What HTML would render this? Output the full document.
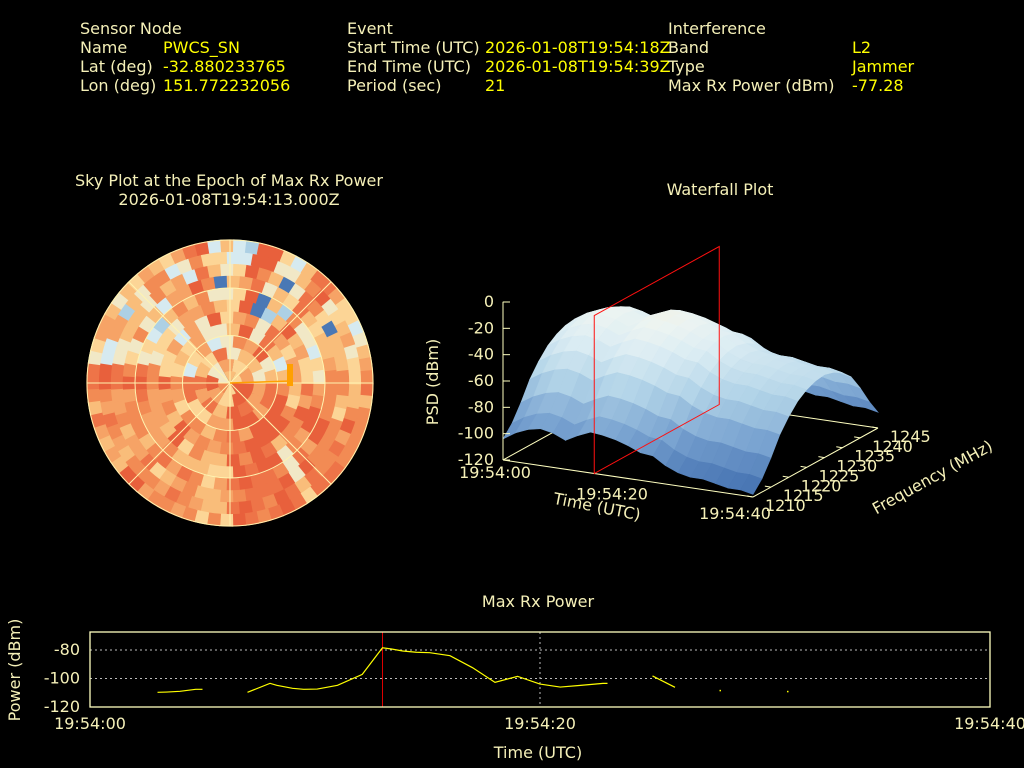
<!DOCTYPE html>
<html><head><meta charset="utf-8">
<style>
body{margin:0;background:#000;width:1024px;height:768px;overflow:hidden;font-family:"DejaVu Sans","Liberation Sans",sans-serif;}
svg{position:absolute;left:0;top:0}
text{font-family:"DejaVu Sans","Liberation Sans",sans-serif;font-size:16px}
.lb{fill:#f5f0b8}.vl{fill:#ffff00}
</style></head><body>
<svg id="svg" width="1024" height="768">
<g>
<text class="lb" x="80" y="34">Sensor Node</text>
<text class="lb" x="80" y="53">Name</text><text class="vl" x="163" y="53">PWCS_SN</text>
<text class="lb" x="80" y="72">Lat (deg)</text><text class="vl" x="163" y="72">-32.880233765</text>
<text class="lb" x="80" y="91">Lon (deg)</text><text class="vl" x="163" y="91">151.772232056</text>
<text class="lb" x="347" y="34">Event</text>
<text class="lb" x="347" y="53">Start Time (UTC)</text><text class="vl" x="485" y="53">2026-01-08T19:54:18Z</text>
<text class="lb" x="347" y="72">End Time (UTC)</text><text class="vl" x="485" y="72">2026-01-08T19:54:39Z</text>
<text class="lb" x="347" y="91">Period (sec)</text><text class="vl" x="485" y="91">21</text>
<text class="lb" x="668" y="34">Interference</text>
<text class="lb" x="668" y="53">Band</text><text class="vl" x="852" y="53">L2</text>
<text class="lb" x="668" y="72">Type</text><text class="vl" x="852" y="72">Jammer</text>
<text class="lb" x="668" y="91">Max Rx Power (dBm)</text><text class="vl" x="852" y="91">-77.28</text>
</g>
<text class="lb" x="229" y="186" text-anchor="middle">Sky Plot at the Epoch of Max Rx Power</text>
<text class="lb" x="229" y="205" text-anchor="middle">2026-01-08T19:54:13.000Z</text>
<text class="lb" x="720" y="195" text-anchor="middle">Waterfall Plot</text>
<g id="sky"></g>
<g id="wf"></g>
<g id="ts"></g>
</svg>
<script>
// ---- Max Rx Power data ----
const tsTimes = [3.0,3.4,4.0,4.7,5.0,null,7.0,8.0,8.3,9.0,9.5,10.1,11.0,12.1,13.0,13.4,13.9,14.5,15.1,16.0,17.0,18.0,19.0,20.0,20.9,21.8,22.8,23.0,null,25.0,26.0,null,28.0,null,31.0];
const tsPower = [-109.7,-109.5,-109.0,-107.6,-107.6,null,-109.7,-103.4,-104.8,-106.9,-107.6,-107.4,-104.8,-97.1,-78.4,-79.3,-80.7,-81.6,-81.9,-84.0,-92.4,-102.7,-98.5,-103.9,-106.0,-104.8,-103.4,-103.4,null,-98.2,-106.2,null,-108.3,null,-109.0];
const tsYTicks = [-80,-100,-120];
const tsXTicks = ["19:54:00","19:54:20","19:54:40"];
const tsXTickVals = [0,20,40];
const epochSec = 13;
// ---- Waterfall data ----
const wfFreqs = [1210,1212.5,1215,1217.5,1220,1222.5,1225,1227.5,1230,1232.5,1235,1237.5,1240,1242.5,1245];
const wfFreqProfile = [-92,-84,-72,-58,-48,-40,-35,-32,-31,-33,-37,-44,-56,-70,-82];
const wfTimes = [0,2,4,6,8,10,12,14,16,18,20,22,24,26,28,30,32,34,36,38,40];
const wfTimeOffset = [-12,-6,-2,0,-2,-6,-1,3,2,0,-3,-7,-8,-14,-18,-20,-20,-22,-24,-24,-26];
const wfZTicks = [0,-20,-40,-60,-80,-100,-120];
const wfFreqTicks = [1210,1215,1220,1225,1230,1235,1240,1245];
const wfTimeTicks = ["19:54:00","19:54:20","19:54:40"];
const wfTimeTickVals = [0,20,40];

const NS="http://www.w3.org/2000/svg";
function mk(parent,tag,attrs){const e=document.createElementNS(NS,tag);for(const k in attrs)e.setAttribute(k,attrs[k]);parent.appendChild(e);return e;}

// ===== Time series =====
(function(){
const g=document.getElementById('ts');
const x0=90,x1=990,y0=632,y1=707;
const xs=t=>x0+(t/40)*(x1-x0);
const ys=v=>650+(-80-v)*(57/40);
const t=mk(g,'text',{class:'lb',x:538,y:607,'text-anchor':'middle'});t.textContent='Max Rx Power';


tsYTicks.forEach(v=>{
 const y=ys(v);
 if(v>-120){const l=mk(g,'line',{x1:x0,x2:x1,y1:y,y2:y,stroke:'#bbb','stroke-dasharray':'2,3'});
 
 }
 const tx=mk(g,'text',{class:'lb',x:80,y:y+5,'text-anchor':'end'});tx.textContent=v;
 
 
});
tsXTickVals.forEach((v,i)=>{
 const x=xs(v);
 if(v===20){const l=mk(g,'line',{x1:x,x2:x,y1:y0,y2:y1,stroke:'#bbb','stroke-dasharray':'2,3'});
 
 }
 const tx=mk(g,'text',{class:'lb',x:x,y:729,'text-anchor':'middle'});tx.textContent=tsXTicks[i];
 
 
});
const ex=xs(epochSec);
const el=mk(g,'line',{x1:ex,x2:ex,y1:y0,y2:y1,stroke:'#d00','stroke-width':1});


let seg=[];const segs=[];
tsTimes.forEach((tt,i)=>{if(tt===null){if(seg.length)segs.push(seg);seg=[];}else seg.push([xs(tt),ys(tsPower[i])]);});
if(seg.length)segs.push(seg);
segs.forEach(s=>{
 if(s.length===1){const d=mk(g,'rect',{x:s[0][0]-0.5,y:s[0][1]-0.5,width:1.5,height:1.5,fill:'#ffff00'});
 
 }
 else{const p=mk(g,'polyline',{points:s.map(p=>p.join(',')).join(' '),fill:'none',stroke:'#ffff00','stroke-width':1.2});
 
 }
});
const b=mk(g,'rect',{x:x0,y:y0,width:x1-x0,height:y1-y0,fill:'none',stroke:'#ffffc0','stroke-width':1.3});


const yl=mk(g,'text',{class:'lb',transform:'translate(20,670) rotate(-90)','text-anchor':'middle'});yl.textContent='Power (dBm)';


const xl=mk(g,'text',{class:'lb',x:538,y:758,'text-anchor':'middle'});xl.textContent='Time (UTC)';


})();

// ===== Sky plot =====
(function(){
const g=document.getElementById('sky');
const cx=230,cy=383,R=143;
const pal=['#e8603c','#ee7448','#f28b54','#f6a366','#f9bd7a','#fcd596','#f1e8c6','#d6eaf0','#add0e4','#4a78b5'];
function h(a,b){let x=(a*374761393+b*668265263)>>>0;x=(x^(x>>>13))*1274126177>>>0;return ((x^(x>>>16))>>>0)%1000/1000;}
const NR=12;
for(let j=0;j<NR;j++){
 const r0=j/NR*R,r1=(j+1)/NR*R+0.6;
 const NA=Math.max(6,Math.round(2*Math.PI*(r0+r1)/2/12.5));
 for(let i=0;i<NA;i++){
  const ang=(i+0.5)/NA;
  const sec=Math.floor(ang*36);
  const base=h(sec,99);
  const v=base*0.6+h(i+j*131,j)*0.4;
  let k=v<0.22?0:v<0.34?1:v<0.46?2:v<0.58?3:v<0.68?4:v<0.76?5:v<0.83?6:v<0.88?7:v<0.92?8:(h(j,i)>0.55?9:3);
  const a0=i/NA*2*Math.PI,a1=(i+1)/NA*2*Math.PI+0.01;
  const p=`M${cx+r0*Math.cos(a0)},${cy+r0*Math.sin(a0)} L${cx+r1*Math.cos(a0)},${cy+r1*Math.sin(a0)} A${r1},${r1} 0 0 1 ${cx+r1*Math.cos(a1)},${cy+r1*Math.sin(a1)} L${cx+r0*Math.cos(a1)},${cy+r0*Math.sin(a1)} A${r0},${r0} 0 0 0 ${cx+r0*Math.cos(a0)},${cy+r0*Math.sin(a0)}Z`;
  const c=mk(g,'path',{d:p,fill:pal[k]});
  
  
 }
}
[47.5,95,143].forEach(r=>{const c=mk(g,'circle',{cx,cy,r,fill:'none',stroke:'#fff3b0','stroke-width':1});
 
 });
for(let a=0;a<180;a+=45){const rad=a*Math.PI/180;
 const l=mk(g,'line',{x1:cx-R*Math.cos(rad),y1:cy-R*Math.sin(rad),x2:cx+R*Math.cos(rad),y2:cy+R*Math.sin(rad),stroke:'#fff3b0','stroke-width':1});
 
 }
const jl=mk(g,'line',{x1:cx,y1:cy,x2:290,y2:381,stroke:'#ffa000','stroke-width':1.5});


const jm=mk(g,'rect',{x:287,y:364,width:6,height:22,fill:'#ffa000'});


})();

// ===== Waterfall =====
(function(){
const g=document.getElementById('wf');
const A=[503,460],T=[250,37],F=[125,-69],zs=158/120;
const P=(t,f,z)=>[A[0]+T[0]*t/40+F[0]*(f-1210)/35, A[1]+T[1]*t/40+F[1]*(f-1210)/35-(z+120)*zs];
const ln=(p,q,c,n)=>{const l=mk(g,'line',{x1:p[0],y1:p[1],x2:q[0],y2:q[1],stroke:c,'stroke-width':1});
 
 };
ln(P(0,1245,-120),P(40,1245,-120),'#ffffc0','floor-back-edge');
ln(P(0,1210,-120),P(0,1245,-120),'#ffffc0','floor-left-edge');
const stops=[[-115,[70,115,178]],[-90,[120,162,208]],[-65,[178,212,232]],[-45,[218,236,243]],[-32,[236,244,242]],[-20,[247,238,212]]];
function col(z){if(z<=stops[0][0])return `rgb(${stops[0][1]})`;
 for(let i=1;i<stops.length;i++){if(z<=stops[i][0]){const a=stops[i-1],b=stops[i],f=(z-a[0])/(b[0]-a[0]);
 return `rgb(${a[1].map((v,k)=>Math.round(v+(b[1][k]-v)*f)).join(',')})`;}}
 return `rgb(${stops[stops.length-1][1]})`;}
const Z=(j,i)=>Math.max(-118,wfFreqProfile[i]+wfTimeOffset[j]);
for(let i=wfFreqs.length-2;i>=0;i--){
 for(let j=0;j<wfTimes.length-1;j++){
  const pts=[P(wfTimes[j],wfFreqs[i],Z(j,i)),P(wfTimes[j+1],wfFreqs[i],Z(j+1,i)),P(wfTimes[j+1],wfFreqs[i+1],Z(j+1,i+1)),P(wfTimes[j],wfFreqs[i+1],Z(j,i+1))];
  const zm=(Z(j,i)+Z(j+1,i)+Z(j+1,i+1)+Z(j,i+1))/4;
  const c=col(zm);
  const q=mk(g,'polygon',{points:pts.map(p=>p.join(',')).join(' '),fill:c,stroke:c,'stroke-width':0.6});
  
  
 }
}
ln(P(0,1210,-120),P(40,1210,-120),'#ffffc0','time-axis');
ln(P(40,1210,-120),P(40,1245,-120),'#ffffc0','frequency-axis');
const e=epochSec+1.6;
const rp=[P(e,1210,-120),P(e,1210,0),P(e,1245,0),P(e,1245,-120)];
const rpl=mk(g,'polygon',{points:rp.map(p=>p.join(',')).join(' '),fill:'none',stroke:'#ff1010','stroke-width':1});


ln([503,301.7],[503,460],'#ffffc0','z-axis');
wfZTicks.forEach(v=>{const y=460-(v+120)*zs;
 ln([503,y],[510,y],'#ffffc0','z-tick');
 const tx=mk(g,'text',{class:'lb',x:494,y:y+5,'text-anchor':'end'});tx.textContent=v;
 
 });
const zl=mk(g,'text',{class:'lb',transform:'translate(438,382) rotate(-90)','text-anchor':'middle'});zl.textContent='PSD (dBm)';


const tOff=[[-8,18],[-16,21],[-18,22]];
wfTimeTickVals.forEach((v,i)=>{const p=P(v,1210,-120);
 const tx=mk(g,'text',{class:'lb',x:p[0]+tOff[i][0],y:p[1]+tOff[i][1],'text-anchor':'middle'});tx.textContent=wfTimeTicks[i];
 
 });
const tl=mk(g,'text',{class:'lb',transform:'translate(596,512) rotate(11)','text-anchor':'middle'});tl.textContent='Time (UTC)';


wfFreqTicks.forEach(v=>{const p=P(40,v,-120);
 ln(p,[p[0]-6,p[1]-1],'#ffffc0','freq-tick');
 const tx=mk(g,'text',{class:'lb',x:p[0]+12,y:p[1]+14,'text-anchor':'start'});tx.textContent=v;
 
 });
const fl=mk(g,'text',{class:'lb',transform:'translate(935,482) rotate(-29)','text-anchor':'middle'});fl.textContent='Frequency (MHz)';


})();
</script>
</body></html>
